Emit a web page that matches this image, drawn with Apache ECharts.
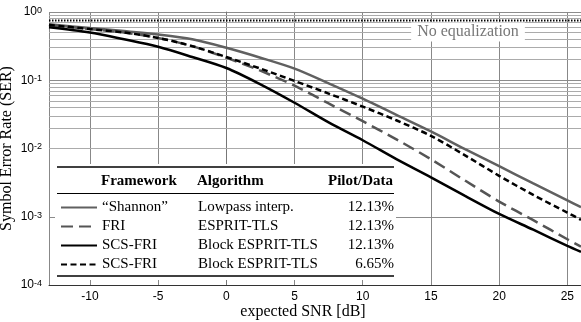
<!DOCTYPE html>
<html>
<head>
<meta charset="utf-8">
<script src="https://cdn.jsdelivr.net/npm/echarts@6/dist/echarts.min.js"></script>
<style>
html, body { margin: 0; padding: 0; background: #fff; }
#chart { width: 581px; height: 322px; }
</style>
</head>
<body>
<div id="chart"></div>
<script>
// expected SNR [dB]
const snr = [-13, -10, -7.5, -5, -2.5, 0, 2.5, 5, 7.5, 10, 12.5, 15, 17.5, 20, 22.5, 25, 26]
// symbol error rate per curve
const serShannon = [0.661, 0.582, 0.525, 0.468, 0.398, 0.299, 0.214, 0.148, 0.0902, 0.0537, 0.0309, 0.0178, 0.00977, 0.0055, 0.00309, 0.00174, 0.00138]
const serFri = [0.646, 0.562, 0.501, 0.417, 0.316, 0.214, 0.138, 0.0832, 0.0457, 0.0251, 0.0135, 0.00697, 0.00339, 0.00167, 0.000891, 0.000468, 0.000366]
const serScs1213 = [0.597, 0.501, 0.398, 0.309, 0.219, 0.151, 0.0871, 0.0468, 0.0241, 0.0132, 0.00692, 0.00378, 0.00202, 0.0011, 0.000646, 0.000375, 0.000306]
const serScs665 = [0.646, 0.562, 0.501, 0.417, 0.316, 0.219, 0.148, 0.0977, 0.0638, 0.0411, 0.0257, 0.0153, 0.00794, 0.00398, 0.00209, 0.00115, 0.000902]
const noEqLevel = 0.75

// legend table
const seriesNames = ['Shannon', 'FRI', 'SCS-FRI 12.13', 'SCS-FRI 6.65']
const frameworks = ['\u201CShannon\u201D', 'FRI', 'SCS-FRI', 'SCS-FRI']
const algorithms = ['Lowpass interp.', 'ESPRIT-TLS', 'Block ESPRIT-TLS', 'Block ESPRIT-TLS']
const pilots = ['12.13%', '12.13%', '12.13%', '6.65%']

// minor log grid
const minorTicks = []
for (let d = -4; d < 0; d++) {
  for (let k = 2; k <= 9; k++) minorTicks.push(k * Math.pow(10, d))
}

const serif = 'Liberation Serif'
const sans = 'Liberation Sans'

function pairs (ys) {
  return snr.map((x, i) => [x, ys[i]])
}

function curve (name, ys, color, type) {
  return {
    name: name,
    type: 'line',
    data: pairs(ys),
    smooth: 0.3,
    symbol: 'none',
    z: 2,
    itemStyle: { color: color },
    lineStyle: { color: color, width: 2.5, type: type }
  }
}

const chart = echarts.init(document.getElementById('chart'))

chart.setOption({
  animation: false,
  grid: { left: 49, right: 0, top: 12, bottom: 37, outerBoundsMode: 'none' },
  xAxis: {
    type: 'value',
    min: -13,
    max: 26,
    splitNumber: 8,
    name: 'expected SNR [dB]',
    nameLocation: 'middle',
    nameMoveOverlap: false,
    nameGap: 19,
    nameTextStyle: { fontFamily: serif, fontSize: 16, color: '#000', padding: [0, 24, 0, 0] },
    axisLine: { lineStyle: { color: '#333', width: 1 } },
    axisTick: { show: false },
    axisLabel: {
      showMinLabel: false,
      showMaxLabel: false,
      margin: 6,
      fontFamily: sans,
      fontSize: 12,
      color: '#000'
    },
    splitLine: { lineStyle: { color: '#888', width: 1 } }
  },
  yAxis: {
    type: 'log',
    logBase: 10,
    min: 1e-4,
    max: 1,
    name: 'Symbol Error Rate (SER)',
    nameLocation: 'middle',
    nameMoveOverlap: false,
    nameGap: 34,
    nameTextStyle: { fontFamily: serif, fontSize: 16, color: '#000' },
    axisLine: { show: true, lineStyle: { color: '#777', width: 1 } },
    axisTick: { show: false },
    axisLabel: {
      margin: 7,
      formatter: v => '{b|10}{s|' + Math.round(Math.log10(v)) + '}',
      rich: {
        b: { fontFamily: sans, fontSize: 12, color: '#000', lineHeight: 12, padding: [5, 0, 0, 0], verticalAlign: 'bottom' },
        s: { fontFamily: sans, fontSize: 9, color: '#000', lineHeight: 9, verticalAlign: 'top' }
      }
    },
    splitLine: { lineStyle: { color: '#8c8c8c', width: 1 } }
  },
  legend: {
    data: seriesNames,
    orient: 'vertical',
    left: 60,
    top: 200,
    padding: 0,
    itemWidth: 36,
    itemHeight: 14,
    itemGap: 4,
    selectedMode: false,
    itemStyle: { opacity: 0 },
    formatter: name => {
      const i = seriesNames.indexOf(name)
      return '{f|' + frameworks[i] + '}{a|' + algorithms[i] + '}{p|' + pilots[i] + '}'
    },
    textStyle: {
      fontFamily: serif,
      fontSize: 15,
      color: '#000',
      rich: {
        f: { fontFamily: serif, fontSize: 15, width: 96, lineHeight: 14 },
        a: { fontFamily: serif, fontSize: 15, width: 136, lineHeight: 14 },
        p: { fontFamily: serif, fontSize: 15, width: 60, align: 'right', lineHeight: 14 }
      }
    }
  },
  graphic: [
    { type: 'rect', z: 3, shape: { x: 55, y: 164, width: 341, height: 116 }, style: { fill: '#fff' } },
    { type: 'line', z: 3.5, shape: { x1: 57, y1: 167, x2: 394, y2: 167 }, style: { stroke: '#000', lineWidth: 1.6 } },
    { type: 'line', z: 3.5, shape: { x1: 57, y1: 193.5, x2: 394, y2: 193.5 }, style: { stroke: '#000', lineWidth: 1 } },
    { type: 'line', z: 3.5, shape: { x1: 57, y1: 276, x2: 394, y2: 276 }, style: { stroke: '#000', lineWidth: 1.6 } },
    { type: 'text', z: 4, x: 101, y: 181, style: { text: 'Framework', font: 'bold 15px "Liberation Serif"', fill: '#000', verticalAlign: 'middle' } },
    { type: 'text', z: 4, x: 197, y: 181, style: { text: 'Algorithm', font: 'bold 15px "Liberation Serif"', fill: '#000', verticalAlign: 'middle' } },
    { type: 'text', z: 4, x: 393, y: 181, style: { text: 'Pilot/Data', font: 'bold 15px "Liberation Serif"', fill: '#000', align: 'right', verticalAlign: 'middle' } },
    {
      type: 'text', z: 4, x: 468, y: 32,
      style: {
        text: 'No equalization', font: '16px "Liberation Serif"', fill: '#777',
        align: 'center', verticalAlign: 'middle', backgroundColor: '#fff', padding: [1, 6, 2, 6]
      }
    }
  ],
  series: [
    {
      name: 'No equalization',
      type: 'line',
      data: [[-13, noEqLevel], [26, noEqLevel]],
      symbol: 'none',
      z: 2,
      lineStyle: { color: '#000', width: 2, type: [1.5, 1.5] },
      markLine: {
        silent: true,
        z: 1,
        symbol: ['none', 'none'],
        label: { show: false },
        lineStyle: { color: '#ababab', width: 1, type: 'solid' },
        emphasis: { disabled: true },
        data: minorTicks.map(v => ({ yAxis: v }))
      }
    },
    curve(seriesNames[0], serShannon, '#606060', 'solid'),
    curve(seriesNames[1], serFri, '#555', [12, 6]),
    curve(seriesNames[2], serScs1213, '#000', 'solid'),
    curve(seriesNames[3], serScs665, '#000', [6, 3.5])
  ]
})
</script>
</body>
</html>
